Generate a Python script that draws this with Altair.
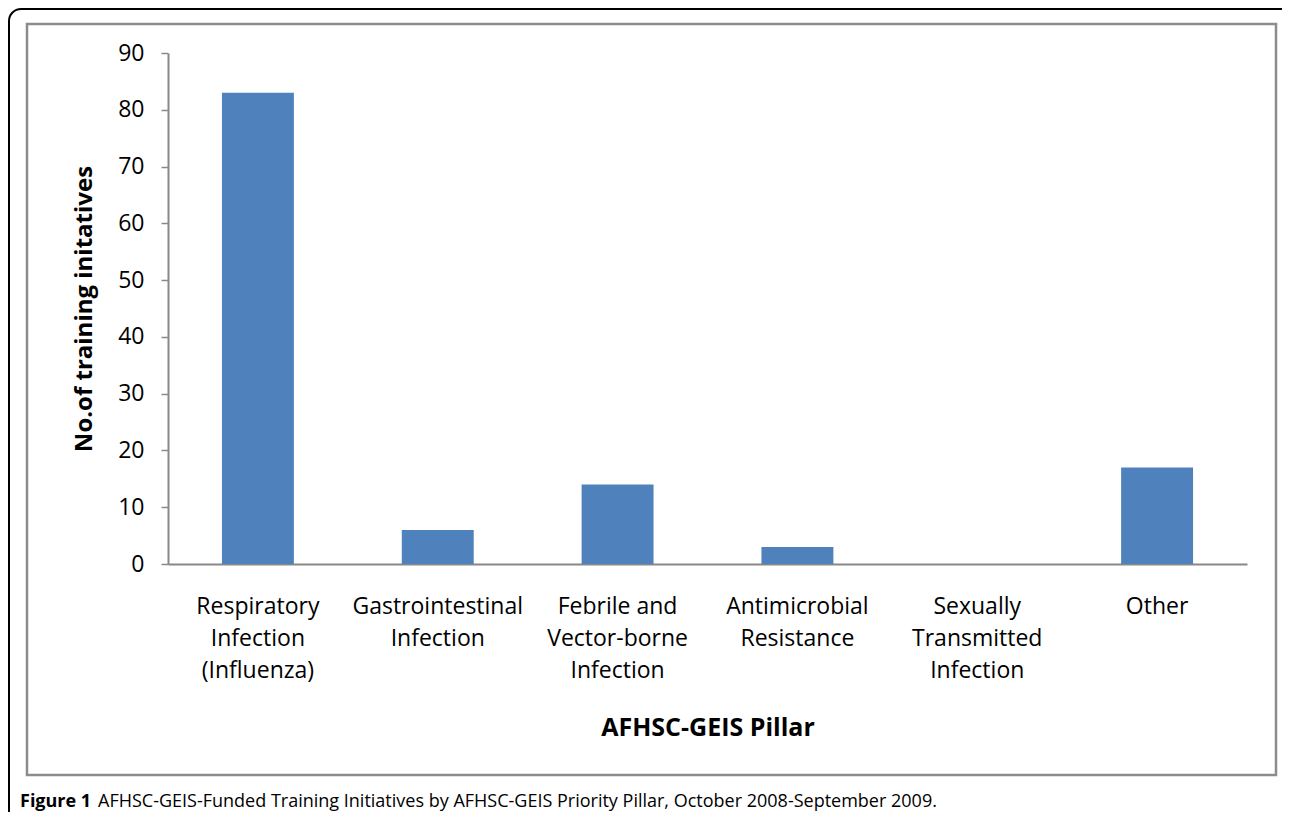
import altair as alt
import pandas as pd

categories = [
    "Respiratory|Infection|(Influenza)",
    "Gastrointestinal|Infection",
    "Febrile and|Vector-borne|Infection",
    "Antimicrobial|Resistance",
    "Sexually|Transmitted|Infection",
    "Other",
]
counts = [83, 6, 14, 3, 0, 17]

y_title = "No.of training initatives"
x_title = "AFHSC-GEIS Pillar"
caption_bold = "Figure 1"
caption_text = "AFHSC-GEIS-Funded Training Initiatives by AFHSC-GEIS Priority Pillar, October 2008-September 2009."

df = pd.DataFrame({"pillar": categories, "count": counts})

FONT = "Open Sans"
CAP_FONT = "Open Sans"

bars = alt.Chart(df).mark_bar(color="#4F81BD").encode(
    x=alt.X(
        "pillar:N",
        sort=categories,
        scale=alt.Scale(paddingInner=0.6, paddingOuter=0.3),
        axis=alt.Axis(
            title=x_title,
            labelExpr="split(datum.label, '|')",
            labelAngle=0,
            labelFont=FONT,
            labelFontSize=23,
            labelColor="black",
            labelLineHeight=32,
            labelPadding=31,
            labelBaseline="top",
            ticks=False,
            domainColor="#888888",
            domainWidth=2,
            titleFont=FONT,
            titleFontSize=25,
            titleFontWeight="bold",
            titleColor="black",
            titlePadding=33,
        ),
    ),
    y=alt.Y(
        "count:Q",
        scale=alt.Scale(domain=[0, 90]),
        axis=alt.Axis(
            title=y_title,
            values=list(range(0, 91, 10)),
            grid=False,
            labelFont=FONT,
            labelFontSize=23,
            labelColor="black",
            labelPadding=17,
            tickSize=7,
            tickColor="#888888",
            tickWidth=1.5,
            domainColor="#888888",
            domainWidth=2,
            titleFont=FONT,
            titleFontSize=24,
            titleFontWeight="bold",
            titleColor="black",
            titlePadding=21,
        ),
    ),
)

frame_df = pd.DataFrame({"k": [0]})

inner_frame = alt.Chart(frame_df).mark_rect(
    fill=None, stroke="#8C8C8C", strokeWidth=2.5
).encode(
    x=alt.value(-141), x2=alt.value(1108), y=alt.value(-29), y2=alt.value(722)
)

outer_frame = alt.Chart(frame_df).mark_rect(
    fill=None, stroke="black", strokeWidth=2, cornerRadius=12
).encode(
    x=alt.value(-159), x2=alt.value(1130), y=alt.value(-44), y2=alt.value(800)
)

cap1 = alt.Chart(frame_df).mark_text(
    text=caption_bold, font=CAP_FONT, fontSize=18, fontWeight="bold",
    align="left", baseline="middle", color="black"
).encode(x=alt.value(-148), y=alt.value(749))

cap2 = alt.Chart(frame_df).mark_text(
    text=caption_text, font=CAP_FONT, fontSize=18,
    align="left", baseline="middle", color="black"
).encode(x=alt.value(-70), y=alt.value(749))

chart = alt.layer(outer_frame, inner_frame, bars, cap1, cap2).properties(
    width=1079,
    height=511,
    autosize=alt.AutoSizeParams(type="none"),
    padding={"left": 160, "top": 45, "right": 35, "bottom": 248},
).configure(background="white").configure_view(strokeWidth=0)

chart.save("out.html", embed_options={"renderer": "svg", "actions": False})
